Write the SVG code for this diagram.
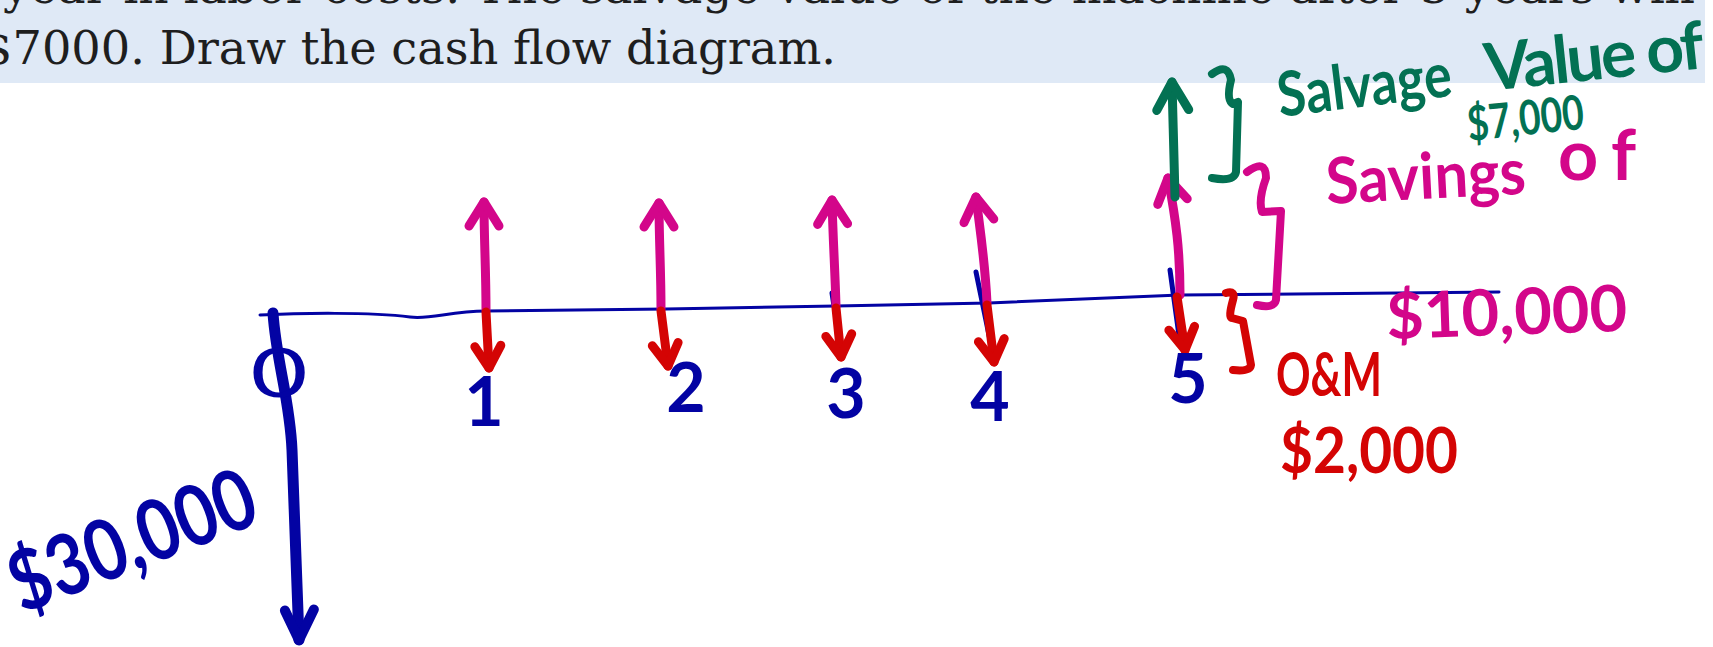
<svg xmlns="http://www.w3.org/2000/svg" width="1713" height="647" viewBox="0 0 1713 647">
<style>
.q{font-family:"DejaVu Serif","Liberation Serif",serif;font-size:47px;fill:#1e1e1e}
.h{font-family:Lato,"Noto Sans",sans-serif;font-weight:700}
.b{fill:#0303a3}.p{fill:#d3068a}.r{fill:#d40404}.g{fill:#037153}
.s{fill:none;stroke-linecap:round;stroke-linejoin:round}
.sb{stroke:#0303a3}.sp{stroke:#d3068a}.sr{stroke:#d40404}.sg{stroke:#037153}
.yr{font-size:68px;text-anchor:middle}
</style>
<defs>
<marker id="hp" markerUnits="userSpaceOnUse" viewBox="-30 -22 36 44" markerWidth="36" markerHeight="44" refX="0" refY="0" orient="auto" overflow="visible"><path d="M-24,-15 L0,0 L-24,15" fill="none" stroke="#d3068a" stroke-width="9" stroke-linecap="round" stroke-linejoin="round"/></marker>
<marker id="hr" markerUnits="userSpaceOnUse" viewBox="-30 -22 36 44" markerWidth="36" markerHeight="44" refX="0" refY="0" orient="auto" overflow="visible"><path d="M-22,-13 L0,0 L-22,13" fill="none" stroke="#d40404" stroke-width="9" stroke-linecap="round" stroke-linejoin="round"/></marker>
<marker id="hg" markerUnits="userSpaceOnUse" viewBox="-30 -22 36 44" markerWidth="36" markerHeight="44" refX="0" refY="0" orient="auto" overflow="visible"><path d="M-28,-16 L0,0 L-28,16" fill="none" stroke="#037153" stroke-width="9" stroke-linecap="round" stroke-linejoin="round"/></marker>
<marker id="hb" markerUnits="userSpaceOnUse" viewBox="-30 -22 36 44" markerWidth="36" markerHeight="44" refX="0" refY="0" orient="auto" overflow="visible"><path d="M-30,-16 L0,0 L-30,13" fill="none" stroke="#0303a3" stroke-width="10" stroke-linecap="round" stroke-linejoin="round"/></marker>
</defs>
<rect width="1713" height="647" fill="#ffffff"/>
<g id="banner">
<rect x="0" y="0" width="1705" height="83" fill="#dfe9f6"/>
<text class="q" x="3" y="3" textLength="1692" lengthAdjust="spacingAndGlyphs">year in labor costs. The salvage value of the machine after 5 years will</text>
<text class="q" x="-17" y="64" textLength="853" lengthAdjust="spacingAndGlyphs">$7000. Draw the cash flow diagram.</text>
</g>
<g id="axis">
<path class="s sb" stroke-width="3" d="M260,315 C300,313 370,312 410,317 C430,320 450,311 486,311 L666,309 L836,306 L989,303 L1180,295 L1499,292"/>
<path class="s sb" stroke-width="5" d="M832,293 L834,306 M976,272 L990,340 M1170,270 L1180,343"/>
</g>
<g id="connectors">
<path class="s sb" stroke-width="11" marker-end="url(#hb)" d="M273,313 C276,360 290,400 292,450 L299,640"/>
<path class="s sp" stroke-width="9" marker-end="url(#hp)" d="M486,310 C486,270 484,240 484,202"/>
<path class="s sp" stroke-width="9" marker-end="url(#hp)" d="M661,309 C661,270 659,240 659,203"/>
<path class="s sp" stroke-width="9" marker-end="url(#hp)" d="M836,306 C835,270 833,240 832,200"/>
<path class="s sp" stroke-width="9" marker-end="url(#hp)" d="M987,303 C985,260 980,230 976,197"/>
<path class="s sp" stroke-width="9" marker-end="url(#hp)" d="M1180,295 C1180,250 1176,220 1168,178"/>
<path class="s sg" stroke-width="9" marker-end="url(#hg)" d="M1175,197 C1174,160 1173,120 1172,82"/>
<path class="s sr" stroke-width="9" marker-end="url(#hr)" d="M486,312 L489,368"/>
<path class="s sr" stroke-width="9" marker-end="url(#hr)" d="M661,311 L668,366"/>
<path class="s sr" stroke-width="9" marker-end="url(#hr)" d="M836,308 L841,357"/>
<path class="s sr" stroke-width="9" marker-end="url(#hr)" d="M987,305 L994,362"/>
<path class="s sr" stroke-width="9" marker-end="url(#hr)" d="M1177,297 L1185,350"/>
</g>
<g id="braces">
<path class="s sg" stroke-width="8" d="M1212,74 Q1228,62 1231,80 Q1226,100 1233,104 L1238,102 L1236,172 Q1234,182 1212,178"/>
<path class="s sp" stroke-width="8" d="M1247,172 Q1266,158 1266,178 Q1258,200 1262,212 L1281,211 L1276,300 Q1274,309 1257,305"/>
<path class="s sr" stroke-width="8" d="M1226,293 Q1236,290 1233,300 Q1228,318 1232,318 L1243,321 L1251,365 Q1250,372 1233,370"/>
</g>
<g id="year0">
<text class="h b yr" x="0" y="0" transform="translate(279 397) scale(1.45 1)" style="font-weight:400">0</text>
<text class="h b" x="22" y="614" font-size="84" textLength="258" lengthAdjust="spacingAndGlyphs" transform="rotate(-21 22 614)">$30,000</text>
</g>
<g id="year1"><text class="h b yr" x="484" y="426">1</text></g>
<g id="year2"><text class="h b yr" x="686" y="412">2</text></g>
<g id="year3"><text class="h b yr" x="846" y="418">3</text></g>
<g id="year4"><text class="h b yr" x="990" y="421">4</text></g>
<g id="year5"><text class="h b yr" x="1188" y="403">5</text></g>
<g id="salvage">
<text class="h g" x="1280" y="117" font-size="62" textLength="175" lengthAdjust="spacingAndGlyphs" transform="rotate(-7 1280 117)">Salvage</text>
<text class="h g" x="1487" y="91" font-size="66" textLength="220" lengthAdjust="spacing" transform="rotate(-6 1487 91)">Value of</text>
<text class="h g" x="1469" y="141" font-size="48" textLength="117" lengthAdjust="spacingAndGlyphs" transform="rotate(-6 1469 141)">$7,000</text>
</g>
<g id="savings">
<text class="h p" x="1327" y="204" font-size="64" textLength="200" lengthAdjust="spacingAndGlyphs" transform="rotate(-3 1327 204)">Savings</text>
<text class="h p" x="1558" y="180" font-size="70" textLength="78" lengthAdjust="spacing">of</text>
<text class="h p" x="1387" y="339" font-size="64" textLength="241" lengthAdjust="spacingAndGlyphs" transform="rotate(-2 1387 339)">$10,000</text>
</g>
<g id="om">
<text class="h r" x="1276" y="396" font-size="62" textLength="106" lengthAdjust="spacingAndGlyphs">O&amp;M</text>
<text class="h r" x="1280" y="473" font-size="64" textLength="178" lengthAdjust="spacingAndGlyphs">$2,000</text>
</g>
</svg>
